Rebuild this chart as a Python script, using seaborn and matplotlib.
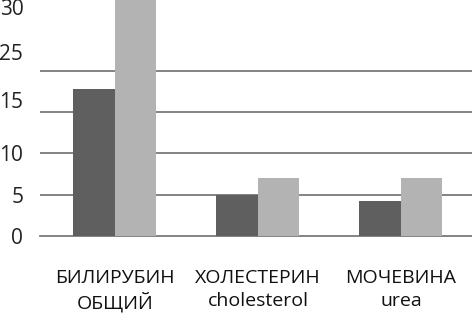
import pandas as pd
import matplotlib.pyplot as plt
import matplotlib.ticker as mticker
import seaborn as sns

# Dados
categorias = ["БИЛИРУБИН\nОБЩИЙ", "ХОЛЕСТЕРИН\ncholesterol", "МОЧЕВИНА\nurea"]
serie_1 = [17.8, 5.0, 4.2]
serie_2 = [30.0, 7.0, 7.0]
grade_y = [0, 5, 10, 15, 20]
rotulos_y = ["0", "5", "10", "15", "25", "30"]
posicoes_rotulos_y = [0, 5, 10, 16.5, 22.3, 27.8]

dados = pd.DataFrame({
    "categoria": categorias * 2,
    "valor": serie_1 + serie_2,
    "serie": ["1"] * 3 + ["2"] * 3,
})

sns.set_style("white")
plt.rcParams['font.family'] = ['Open Sans', 'DejaVu Sans']

fig = plt.figure(figsize=(4.72, 3.13), dpi=100)
ax = fig.add_axes([40 / 472, 1 - 236 / 313, 1 - 40 / 472, 236 / 313])

sns.barplot(data=dados, x="categoria", y="valor", hue="serie",
            palette=["#5f5f5f", "#b3b3b3"], width=0.58, saturation=1,
            linewidth=0, legend=False, ax=ax, zorder=3)

ax.set_xlim(-0.524, 2.497)
ax.set_ylim(0, 28.6)

# grade horizontal
for v in grade_y[1:]:
    ax.axhline(v, color="#7a7a7a", lw=1.3, zorder=1)

ax.set_yticks(posicoes_rotulos_y)
ax.set_yticklabels(rotulos_y)
ax.tick_params(axis="y", length=0, pad=12, labelsize=15, colors="#222222")

ax.set_xticks(range(len(categorias)))
ax.set_xticklabels(categorias, fontsize=14, linespacing=1.3)
ax.tick_params(axis="x", which="major", length=0, pad=24, colors="#111111")
ax.xaxis.set_minor_locator(mticker.FixedLocator([0.5, 1.5]))
ax.tick_params(axis="x", which="minor", length=9, width=1.2, color="#7a7a7a")

for s in ["top", "right", "left"]:
    ax.spines[s].set_visible(False)
ax.spines["bottom"].set_color("#7a7a7a")
ax.spines["bottom"].set_linewidth(1.3)

ax.set_xlabel("")
ax.set_ylabel("")

plt.savefig("out.png", dpi=100)
